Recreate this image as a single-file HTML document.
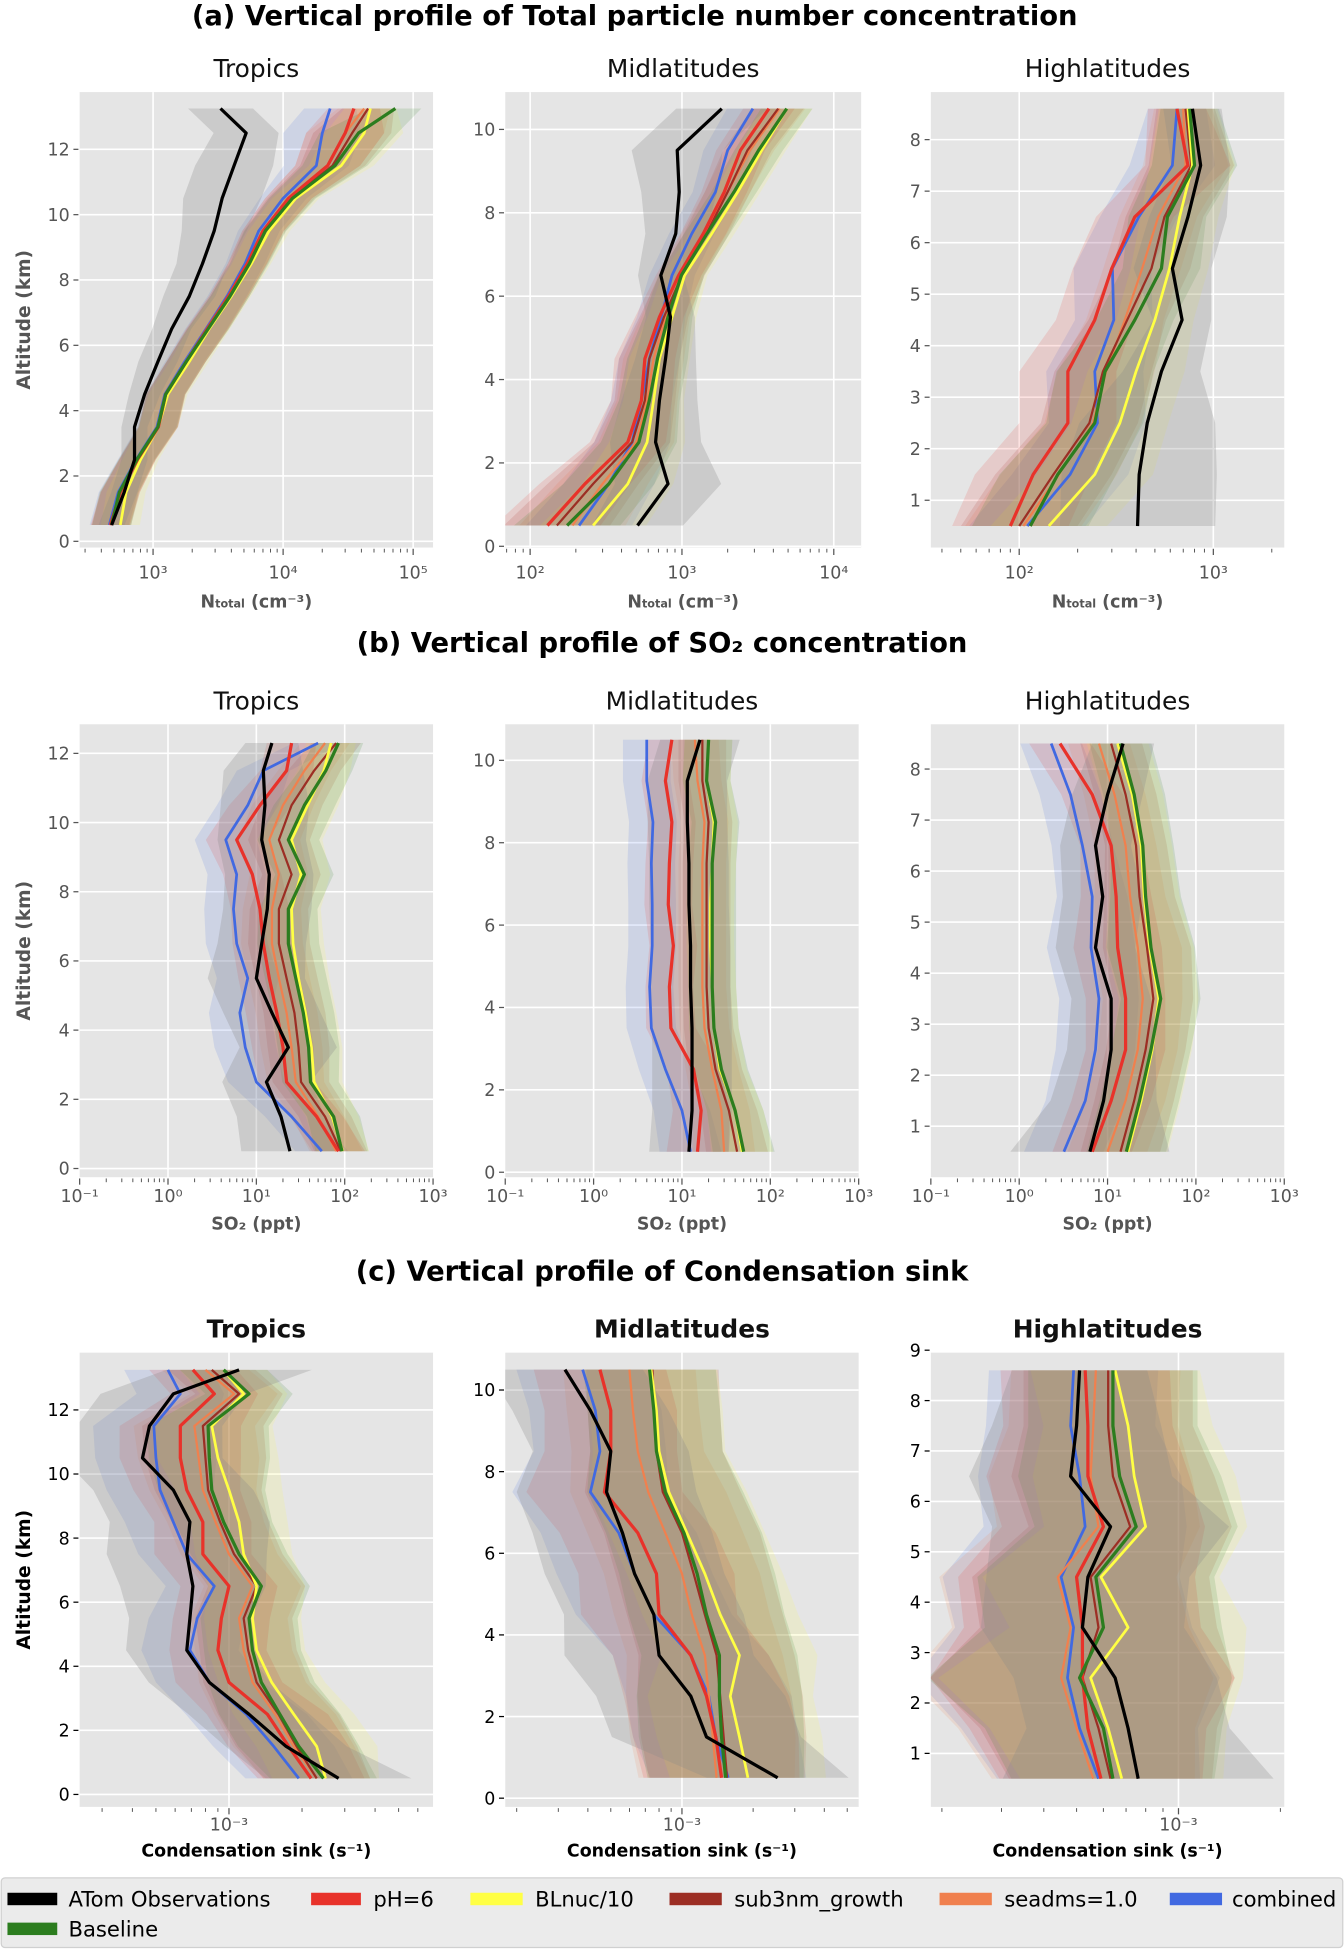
<!DOCTYPE html>
<html><head><meta charset="utf-8">
<style>
html,body{margin:0;padding:0;background:#fff;}
svg{display:block;}
text{font-family:"DejaVu Sans","Liberation Sans",sans-serif;}
</style></head>
<body>
<svg id="fig" width="1344" height="1950" viewBox="0 0 1080 1567" preserveAspectRatio="none" xmlns="http://www.w3.org/2000/svg">
<rect x="0" y="0" width="1080" height="1567" fill="#fff"/>
<text x="510" y="20" text-anchor="middle" font-size="22" font-weight="bold">(a)  Vertical profile of Total particle number concentration</text>
<text x="532" y="524" text-anchor="middle" font-size="22" font-weight="bold">(b) Vertical profile of SO₂ concentration</text>
<text x="532" y="1029" text-anchor="middle" font-size="22" font-weight="bold">(c) Vertical profile of Condensation sink</text>
<g id="panels"></g>
<g>
<rect x="1" y="1509" width="1078" height="56" rx="3" fill="#ebebeb" stroke="#d0d0d0"/>
<rect x="6" y="1521" width="40" height="10" fill="#000"/>
<text x="55" y="1532" font-size="17" font-family="Liberation Sans">ATom Observations</text>
<rect x="250" y="1521" width="40" height="10" fill="#e8322a"/>
<text x="300" y="1532" font-size="17" font-family="Liberation Sans">pH=6</text>
<rect x="378" y="1521" width="42" height="10" fill="#ffff44"/>
<text x="430" y="1532" font-size="17" font-family="Liberation Sans">BLnuc/10</text>
<rect x="538" y="1521" width="42" height="10" fill="#9c2e24"/>
<text x="590" y="1532" font-size="17" font-family="Liberation Sans">sub3nm_growth</text>
<rect x="755" y="1521" width="42" height="10" fill="#f0804e"/>
<text x="807" y="1532" font-size="17" font-family="Liberation Sans">seadms=1.0</text>
<rect x="940" y="1521" width="42" height="10" fill="#4169e1"/>
<text x="990" y="1532" font-size="17" font-family="Liberation Sans">combined</text>
<rect x="6" y="1545" width="40" height="10" fill="#2c7d1f"/>
<text x="55" y="1556" font-size="17" font-family="Liberation Sans">Baseline</text>
</g>
</svg>
<script>
// ---------- data ----------
const seriesNames = ["combined","seadms","sub3","blnuc","ph6","baseline","obs"];
// (a) N_total, cm^-3
const aTropLevels = [0.5,1.5,2.5,3.5,4.5,5.5,6.5,7.5,8.5,9.5,10.5,11.5,12.5,13.25];
const aTropObs = [480,600,720,720,860,1090,1390,1900,2400,2950,3400,4200,5200,3300];
const aTropBaseline = [480,550,750,1090,1250,1800,2650,3900,5500,7300,11800,25000,38000,73000];
const aTropBlnuc = [560,620,800,1100,1300,1900,2700,4000,5700,7800,12500,28000,42000,47000];
const aTropPh6 = [470,560,760,1100,1250,1800,2600,3800,5300,7000,11000,22000,30000,35000];
const aTropSub3 = [480,560,760,1100,1260,1800,2650,3900,5400,7200,11500,24000,34000,45000];
const aTropSeadms = [470,550,750,1080,1240,1780,2600,3800,5300,7000,11000,22000,30000,42000];
const aTropCombined = [460,540,740,1070,1230,1750,2550,3700,5100,6500,10000,18000,20000,23000];
const aTropBandM = [0.15,0.15,0.14,0.15,0.15,0.15,0.16,0.15,0.15,0.16,0.18,0.25,0.3,0.2];
const aTropBandO = [0.1,0.1,0.1,0.1,0.12,0.15,0.15,0.2,0.2,0.25,0.3,0.3,0.25,0.25];

const aMidLevels = [0.5,1.5,2.5,3.5,4.5,5.5,6.5,7.5,8.5,9.5,10.5];
const aMidObs = [510,810,670,710,780,840,725,910,960,930,1830];
const aMidBaseline = [175,330,520,610,690,810,990,1460,2200,3200,4900];
const aMidBlnuc = [260,440,590,650,710,860,1040,1570,2330,3350,4900];
const aMidPh6 = [130,230,440,540,570,710,950,1380,1900,2430,3740];
const aMidSub3 = [150,260,470,570,610,760,1000,1450,2000,2700,4300];
const aMidSeadms = [190,300,500,590,650,780,980,1400,2000,2800,4400];
const aMidCombined = [210,330,470,540,610,730,860,1160,1660,2000,2930];
const aMidBandM = [0.35,0.3,0.25,0.2,0.2,0.16,0.15,0.15,0.15,0.16,0.17];
const aMidBandO = [0.3,0.35,0.3,0.25,0.2,0.16,0.15,0.2,0.25,0.3,0.3];

const aHighLevels = [0.5,1.5,2.5,3.5,4.5,5.5,6.5,7.5,8.6];
const aHighObs = [407,415,457,540,690,615,740,860,780];
const aHighBaseline = [114,158,245,277,394,540,580,800,755];
const aHighBlnuc = [142,245,330,400,500,595,670,780,740];
const aHighPh6 = [90,118,178,178,245,300,394,740,650];
const aHighSub3 = [100,150,230,270,360,480,560,770,720];
const aHighSeadms = [105,160,240,280,350,430,520,720,700];
const aHighCombined = [110,183,253,245,307,302,413,615,650];
const aHighBandM = [0.3,0.3,0.25,0.25,0.2,0.2,0.2,0.22,0.15];
const aHighBandO = [0.4,0.4,0.35,0.2,0.15,0.2,0.2,0.15,0.15];

// (b) SO2, ppt
const bTropLevels = [0.5,1.5,2.5,3.5,4.5,5.5,6.5,7.5,8.5,9.5,10.5,11.5,12.3];
const bTropObs = [24,19,13,23,15,10,11.5,13.3,14,11.5,12.5,12,15];
const bTropBaseline = [93,75,41,39,34,28,23,23,35,23,35,61,85];
const bTropBlnuc = [95,72,45,42,36,30,26,25,32,25,38,58,70];
const bTropPh6 = [85,48,22,20,17,14,12,11,9,6,11,22,25];
const bTropSub3 = [90,60,32,30,27,22,18,18,25,18,25,45,80];
const bTropSeadms = [80,50,28,25,22,18,15,15,18,14,20,35,60];
const bTropCombined = [55,25,10,7.5,6.5,8,6,5.5,6,4.5,8,12,50];
const bTropBandM = [0.3,0.3,0.32,0.35,0.35,0.35,0.35,0.33,0.33,0.35,0.35,0.3,0.28];
const bTropBandO = [0.55,0.5,0.5,0.55,0.55,0.55,0.5,0.5,0.5,0.5,0.5,0.45,0.3];

const bMidLevels = [0.5,1.5,2.5,3.5,4.5,5.5,6.5,7.5,8.5,9.5,10.5];
const bMidObs = [12,13,13,13,12.5,12.5,12,12,11.5,11.5,16];
const bMidBaseline = [50,40,28,23,22,22,22,22,24,19,20];
const bMidBlnuc = [48,40,27,23,22,21,21,22,23,19,20];
const bMidPh6 = [15,16.5,13.5,7.5,7.2,8,7,7.2,7.7,6.5,7.7];
const bMidSub3 = [42,34,24,20,19,19,19,19,20,17,17];
const bMidSeadms = [30,28,22,18,17,17,17,17,18,15,14];
const bMidCombined = [12.5,10,6.5,4.5,4.3,4.6,4.6,4.5,4.7,4,4];
const bMidBandM = [0.35,0.32,0.3,0.28,0.27,0.27,0.27,0.27,0.27,0.27,0.27];
const bMidBandO = [0.45,0.45,0.45,0.45,0.45,0.45,0.45,0.45,0.45,0.45,0.45];

const bHighLevels = [0.5,1.5,2.5,3.5,4.5,5.5,6.5,7.5,8.5];
const bHighObs = [6.3,9,11,11,7.3,8.8,7.3,10,15];
const bHighBaseline = [16.3,23,31,40,31,27,25,20,14];
const bHighBlnuc = [17,24,32,38,30,26,24,19,13];
const bHighPh6 = [6.7,11,16,16,13,12.5,11,6.7,2.9];
const bHighSub3 = [14,20,27,33,28,23,21,16,11];
const bHighSeadms = [10,16,22,25,22,18,16,12,8];
const bHighCombined = [3.2,5.6,7.3,8,6.5,6.7,5.2,3.8,2.3];
const bHighBandM = [0.45,0.45,0.45,0.45,0.5,0.4,0.35,0.35,0.35];
const bHighBandO = [0.9,0.6,0.5,0.45,0.45,0.45,0.4,0.4,0.35];

// (c) condensation sink, s^-1
const cTropLevels = [0.5,1.5,2.5,3.5,4.5,5.5,6.5,7.5,8.5,9.5,10.5,11.5,12.5,13.25];
const cTropObs = [2.83e-3,1.72e-3,1.21e-3,0.83e-3,0.67e-3,0.69e-3,0.71e-3,0.67e-3,0.69e-3,0.59e-3,0.44e-3,0.47e-3,0.59e-3,1.1e-3];
const cTropBaseline = [2.45e-3,1.94e-3,1.62e-3,1.36e-3,1.25e-3,1.21e-3,1.36e-3,1.1e-3,0.95e-3,0.85e-3,0.83e-3,0.82e-3,1.21e-3,0.95e-3];
const cTropBlnuc = [2.5e-3,2.3e-3,1.85e-3,1.5e-3,1.3e-3,1.25e-3,1.3e-3,1.15e-3,1.1e-3,1.0e-3,0.9e-3,0.85e-3,1.15e-3,0.95e-3];
const cTropPh6 = [2.18e-3,1.76e-3,1.44e-3,1.0e-3,0.9e-3,0.93e-3,1.0e-3,0.78e-3,0.78e-3,0.67e-3,0.63e-3,0.63e-3,0.87e-3,0.71e-3];
const cTropSub3 = [2.3e-3,1.9e-3,1.6e-3,1.3e-3,1.2e-3,1.15e-3,1.3e-3,1.05e-3,0.92e-3,0.82e-3,0.8e-3,0.78e-3,1.1e-3,0.85e-3];
const cTropSeadms = [2.3e-3,1.85e-3,1.55e-3,1.25e-3,1.15e-3,1.1e-3,1.25e-3,1.0e-3,0.88e-3,0.78e-3,0.75e-3,0.72e-3,1.05e-3,0.8e-3];
const cTropCombined = [1.94e-3,1.53e-3,1.18e-3,0.83e-3,0.69e-3,0.74e-3,0.87e-3,0.67e-3,0.59e-3,0.52e-3,0.5e-3,0.49e-3,0.63e-3,0.56e-3];
const cTropBandM = [0.22,0.25,0.25,0.22,0.2,0.2,0.2,0.2,0.2,0.22,0.25,0.25,0.18,0.18];
const cTropBandO = [0.3,0.25,0.25,0.25,0.25,0.25,0.3,0.33,0.33,0.33,0.33,0.3,0.3,0.3];

const cMidLevels = [0.5,1.5,2.5,3.5,4.5,5.5,6.5,7.5,8.5,9.5,10.5];
const cMidObs = [2.54e-3,1.27e-3,1.09e-3,0.8e-3,0.76e-3,0.63e-3,0.56e-3,0.48e-3,0.5e-3,0.41e-3,0.32e-3];
const cMidBaseline = [1.53e-3,1.47e-3,1.44e-3,1.44e-3,1.27e-3,1.16e-3,1.02e-3,0.85e-3,0.78e-3,0.76e-3,0.73e-3];
const cMidBlnuc = [1.9e-3,1.75e-3,1.6e-3,1.75e-3,1.45e-3,1.25e-3,1.05e-3,0.88e-3,0.8e-3,0.78e-3,0.74e-3];
const cMidPh6 = [1.47e-3,1.39e-3,1.27e-3,1.09e-3,0.8e-3,0.78e-3,0.65e-3,0.47e-3,0.5e-3,0.5e-3,0.45e-3];
const cMidSub3 = [1.55e-3,1.5e-3,1.45e-3,1.4e-3,1.25e-3,1.12e-3,1.0e-3,0.83e-3,0.78e-3,0.76e-3,0.75e-3];
const cMidSeadms = [1.4e-3,1.35e-3,1.3e-3,1.25e-3,1.1e-3,1.0e-3,0.85e-3,0.72e-3,0.65e-3,0.62e-3,0.6e-3];
const cMidCombined = [1.57e-3,1.39e-3,1.3e-3,1.09e-3,0.76e-3,0.63e-3,0.54e-3,0.41e-3,0.45e-3,0.43e-3,0.38e-3];
const cMidBandM = [0.33,0.35,0.35,0.33,0.33,0.33,0.33,0.33,0.28,0.28,0.28];
const cMidBandO = [0.3,0.4,0.4,0.4,0.38,0.38,0.38,0.38,0.33,0.33,0.33];

const cHighLevels = [0.5,1.5,2.5,3.5,4.5,5.5,6.5,7.5,8.6];
const cHighObs = [0.76e-3,0.71e-3,0.65e-3,0.52e-3,0.54e-3,0.63e-3,0.48e-3,0.5e-3,0.51e-3];
const cHighBaseline = [0.64e-3,0.6e-3,0.51e-3,0.6e-3,0.57e-3,0.75e-3,0.67e-3,0.64e-3,0.64e-3];
const cHighBlnuc = [0.68e-3,0.62e-3,0.55e-3,0.71e-3,0.59e-3,0.8e-3,0.74e-3,0.71e-3,0.65e-3];
const cHighPh6 = [0.59e-3,0.54e-3,0.52e-3,0.52e-3,0.5e-3,0.6e-3,0.54e-3,0.54e-3,0.53e-3];
const cHighSub3 = [0.63e-3,0.58e-3,0.52e-3,0.58e-3,0.55e-3,0.72e-3,0.64e-3,0.62e-3,0.62e-3];
const cHighSeadms = [0.56e-3,0.5e-3,0.45e-3,0.48e-3,0.44e-3,0.58e-3,0.55e-3,0.56e-3,0.57e-3];
const cHighCombined = [0.58e-3,0.51e-3,0.47e-3,0.49e-3,0.45e-3,0.53e-3,0.51e-3,0.48e-3,0.49e-3];
const cHighBandM = [0.3,0.35,0.45,0.35,0.35,0.3,0.3,0.25,0.25];
const cHighBandO = [0.4,0.3,0.3,0.3,0.3,0.35,0.3,0.25,0.2];

// ---------- styling ----------
const colors = {obs:"#000000",ph6:"#e8322a",blnuc:"#ffff44",sub3:"#9c2e24",seadms:"#f0804e",combined:"#4169e1",baseline:"#2c7d1f"};
const widths = {obs:2.6,ph6:2.6,blnuc:2.2,sub3:1.8,seadms:1.8,combined:2.2,baseline:2.6};

const panels = [
 {name:"a-tropics",title:"Tropics",bold:false,box:[64,74,348,440],yZero:435,kmPx:26.25,xRefExp:3,xRefPx:123,decPx:104.5,yTicks:[0,2,4,6,8,10,12],xLabels:[3,4,5],xlab:"N",levels:aTropLevels,obs:aTropObs,baseline:aTropBaseline,blnuc:aTropBlnuc,ph6:aTropPh6,sub3:aTropSub3,seadms:aTropSeadms,combined:aTropCombined,bandM:aTropBandM,bandO:aTropBandO,ylab:true,tc:"#555",lblOff:25,ttlOff:48},
 {name:"a-midlatitudes",title:"Midlatitudes",bold:false,box:[406,74,692,440],yZero:439,kmPx:33.5,xRefExp:2,xRefPx:426,decPx:122,yTicks:[0,2,4,6,8,10],xLabels:[2,3,4],xlab:"N",levels:aMidLevels,obs:aMidObs,baseline:aMidBaseline,blnuc:aMidBlnuc,ph6:aMidPh6,sub3:aMidSub3,seadms:aMidSeadms,combined:aMidCombined,bandM:aMidBandM,bandO:aMidBandO,tc:"#555",lblOff:25,ttlOff:48},
 {name:"a-highlatitudes",title:"Highlatitudes",bold:false,box:[748,74,1032,440],yZero:443.4,kmPx:41.4,xRefExp:2,xRefPx:819,decPx:156,yTicks:[1,2,3,4,5,6,7,8],xLabels:[2,3],xlab:"N",levels:aHighLevels,obs:aHighObs,baseline:aHighBaseline,blnuc:aHighBlnuc,ph6:aHighPh6,sub3:aHighSub3,seadms:aHighSeadms,combined:aHighCombined,bandM:aHighBandM,bandO:aHighBandO,tc:"#555",lblOff:25,ttlOff:48},
 {name:"b-tropics",title:"Tropics",bold:false,box:[64,582,348,946],yZero:939,kmPx:27.8,xRefExp:-1,xRefPx:64,decPx:71,yTicks:[0,2,4,6,8,10,12],xLabels:[-1,0,1,2,3],xlab:"S",levels:bTropLevels,obs:bTropObs,baseline:bTropBaseline,blnuc:bTropBlnuc,ph6:bTropPh6,sub3:bTropSub3,seadms:bTropSeadms,combined:bTropCombined,bandM:bTropBandM,bandO:bTropBandO,ylab:true,tc:"#555",lblOff:20,ttlOff:42},
 {name:"b-midlatitudes",title:"Midlatitudes",bold:false,box:[406,582,690,946],yZero:942,kmPx:33.1,xRefExp:-1,xRefPx:406,decPx:71,yTicks:[0,2,4,6,8,10],xLabels:[-1,0,1,2,3],xlab:"S",levels:bMidLevels,obs:bMidObs,baseline:bMidBaseline,blnuc:bMidBlnuc,ph6:bMidPh6,sub3:bMidSub3,seadms:bMidSeadms,combined:bMidCombined,bandM:bMidBandM,bandO:bMidBandO,tc:"#555",lblOff:20,ttlOff:42},
 {name:"b-highlatitudes",title:"Highlatitudes",bold:false,box:[748,582,1032,946],yZero:946,kmPx:41,xRefExp:-1,xRefPx:748,decPx:71,yTicks:[1,2,3,4,5,6,7,8],xLabels:[-1,0,1,2,3],xlab:"S",levels:bHighLevels,obs:bHighObs,baseline:bHighBaseline,blnuc:bHighBlnuc,ph6:bHighPh6,sub3:bHighSub3,seadms:bHighSeadms,combined:bHighCombined,bandM:bHighBandM,bandO:bHighBandO,tc:"#555",lblOff:20,ttlOff:42},
 {name:"c-tropics",title:"Tropics",bold:true,box:[64,1087,348,1452],yZero:1442,kmPx:25.75,xRefExp:-3,xRefPx:184,decPx:195,yTicks:[0,2,4,6,8,10,12],xLabels:[-3],xlab:"C",levels:cTropLevels,obs:cTropObs,baseline:cTropBaseline,blnuc:cTropBlnuc,ph6:cTropPh6,sub3:cTropSub3,seadms:cTropSeadms,combined:cTropCombined,bandM:cTropBandM,bandO:cTropBandO,ylab:true,tc:"#000",lblOff:19,ttlOff:40},
 {name:"c-midlatitudes",title:"Midlatitudes",bold:true,box:[406,1087,690,1452],yZero:1445,kmPx:32.8,xRefExp:-3,xRefPx:548,decPx:190,yTicks:[0,2,4,6,8,10],xLabels:[-3],xlab:"C",levels:cMidLevels,obs:cMidObs,baseline:cMidBaseline,blnuc:cMidBlnuc,ph6:cMidPh6,sub3:cMidSub3,seadms:cMidSeadms,combined:cMidCombined,bandM:cMidBandM,bandO:cMidBandO,tc:"#000",lblOff:19,ttlOff:40},
 {name:"c-highlatitudes",title:"Highlatitudes",bold:true,box:[748,1087,1032,1452],yZero:1449.5,kmPx:40.5,xRefExp:-3,xRefPx:947,decPx:272,yTicks:[1,2,3,4,5,6,7,8,9],xLabels:[-3],xlab:"C",levels:cHighLevels,obs:cHighObs,baseline:cHighBaseline,blnuc:cHighBlnuc,ph6:cHighPh6,sub3:cHighSub3,seadms:cHighSeadms,combined:cHighCombined,bandM:cHighBandM,bandO:cHighBandO,tc:"#000",lblOff:19,ttlOff:40}
];

// ---------- drawing ----------
const NS = "http://www.w3.org/2000/svg";
const root = document.getElementById("panels");
function mk(tag, attrs, parent){ const e=document.createElementNS(NS,tag); for(const k in attrs) e.setAttribute(k,attrs[k]); parent.appendChild(e); return e; }
const sup = {"-":"⁻","0":"⁰","1":"¹","2":"²","3":"³","4":"⁴","5":"⁵"};

panels.forEach(p => {
  const g = mk("g",{},root);
  
  
  const [x0,y0,x1,y1] = p.box;
  const xs = v => p.xRefPx + (Math.log10(v) - p.xRefExp) * p.decPx;
  const ys = km => p.yZero - km * p.kmPx;
  const bg = mk("rect",{x:x0,y:y0,width:x1-x0,height:y1-y0,fill:"#e5e5e5"},g);
  
  
  p.yTicks.forEach(t => {
    const yy = ys(t);
    mk("line",{x1:x0,x2:x1,y1:yy,y2:yy,stroke:"#fff","stroke-width":1.3},g);
    mk("line",{x1:x0-5,x2:x0-1,y1:yy,y2:yy,stroke:p.tc,"stroke-width":1},g);
    const tl = mk("text",{x:x0-8,y:yy+5,"text-anchor":"end","font-size":14,fill:p.tc},g);
    tl.textContent = t;
    
    
  });
  const eMin = Math.floor(p.xRefExp - (p.xRefPx - x0)/p.decPx) - 1;
  const eMax = Math.ceil(p.xRefExp + (x1 - p.xRefPx)/p.decPx) + 1;
  for (let e=eMin; e<=eMax; e++) {
    for (let m=1; m<=9; m++) {
      const xx = xs(m*Math.pow(10,e));
      if (xx < x0-0.5 || xx > x1+0.5) continue;
      if (m===1) {
        if (xx > x0+1 && xx < x1-1) mk("line",{x1:xx,x2:xx,y1:y0,y2:y1,stroke:"#fff","stroke-width":1.3},g);
        mk("line",{x1:xx,x2:xx,y1:y1+1,y2:y1+6,stroke:"#555","stroke-width":1},g);
      } else {
        mk("line",{x1:xx,x2:xx,y1:y1+1,y2:y1+4,stroke:"#555","stroke-width":0.8},g);
      }
    }
  }
  p.xLabels.forEach(e => {
    const xx = xs(Math.pow(10,e));
    const tl = mk("text",{x:xx,y:y1+p.lblOff,"text-anchor":"middle","font-size":14,fill:"#555"},g);
    const s = String(e).split("").map(c=>sup[c]).join("");
    tl.textContent = "10" + s;
    
    
  });
  const cid = "clip-" + p.name;
  const cp = mk("clipPath",{id:cid},g);
  mk("rect",{x:x0,y:y0,width:x1-x0,height:y1-y0},cp);
  const plot = mk("g",{"clip-path":"url(#"+cid+")"},g);
  seriesNames.forEach(s => {
    const vals = p[s];
    const band = s==="obs" ? p.bandO : p.bandM;
    const pts = [];
    vals.forEach((v,i)=>pts.push(xs(v/Math.pow(10,band[i])).toFixed(1)+","+ys(p.levels[i]).toFixed(1)));
    for (let i=vals.length-1;i>=0;i--) pts.push(xs(vals[i]*Math.pow(10,band[i])).toFixed(1)+","+ys(p.levels[i]).toFixed(1));
    const poly = mk("polygon",{points:pts.join(" "),fill:s==="obs"?"#888":colors[s],"fill-opacity":s==="obs"?0.28:0.14},plot);
    
    
  });
  seriesNames.forEach(s => {
    const pts = p[s].map((v,i)=>xs(v).toFixed(1)+","+ys(p.levels[i]).toFixed(1)).join(" ");
    const pl = mk("polyline",{points:pts,fill:"none",stroke:colors[s],"stroke-width":widths[s],"stroke-linejoin":"round"},plot);
    
    
  });
  const tt = mk("text",{x:(x0+x1)/2,y:y0-12,"text-anchor":"middle","font-size":20,fill:"#111","font-weight":p.bold?"bold":"normal"},g);
  tt.textContent = p.title;
  
  
  const xl = mk("text",{x:(x0+x1)/2,y:y1+p.ttlOff,"text-anchor":"middle","font-size":14,"font-weight":"bold",fill:p.tc},g);
  if (p.xlab==="N") { xl.innerHTML = 'N<tspan font-size="9">total</tspan> (cm⁻³)'; }
  else if (p.xlab==="S") { xl.textContent = "SO₂ (ppt)"; }
  else { xl.textContent = "Condensation sink (s⁻¹)"; }
  
  
  if (p.ylab) {
    const cy = (y0+y1)/2;
    const yl = mk("text",{x:24,y:cy,"text-anchor":"middle","font-size":15,"font-weight":"bold",fill:p.tc,transform:"rotate(-90 24 "+cy+")"},g);
    yl.textContent = "Altitude (km)";
    
    
  }
});
</script>
</body></html>
